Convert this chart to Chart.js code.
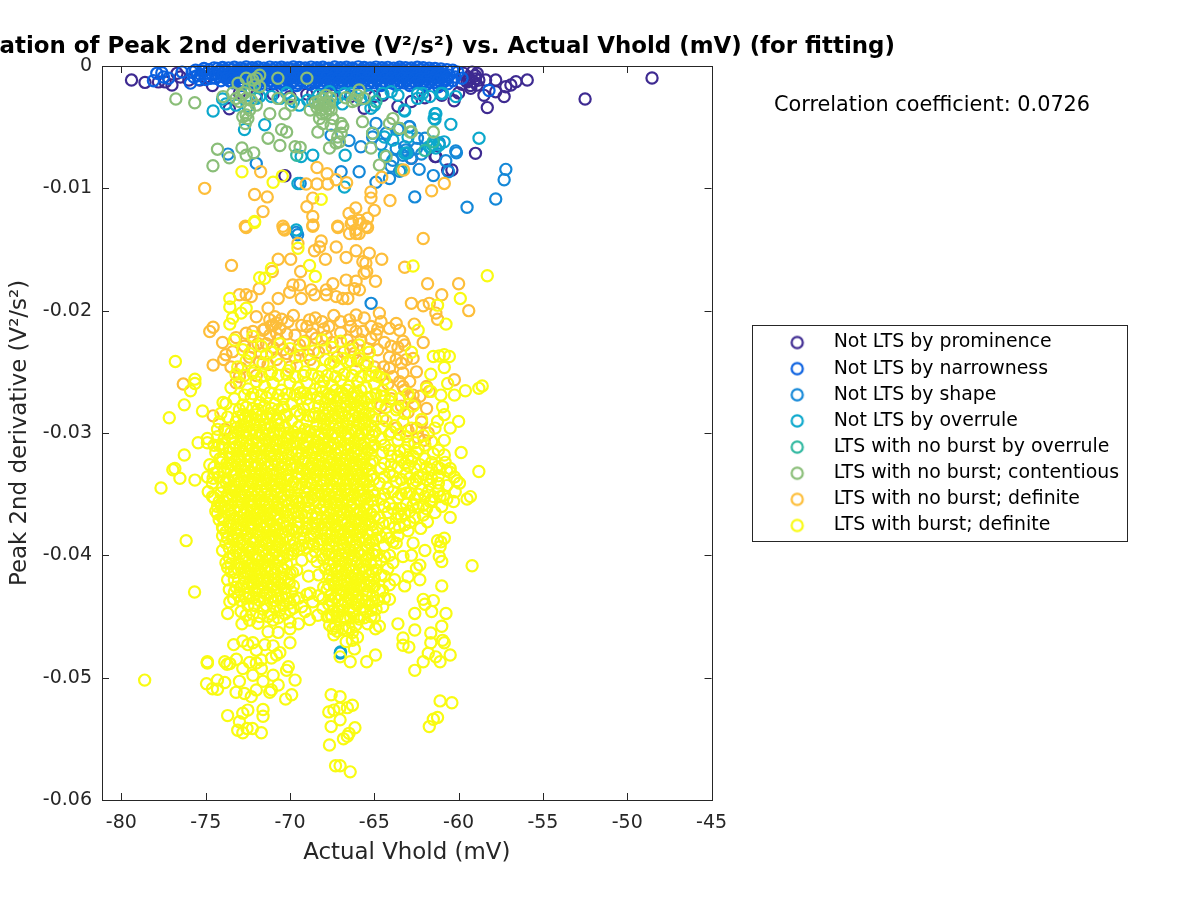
<!DOCTYPE html>
<html><head><meta charset="utf-8"><style>html,body{margin:0;padding:0;background:#fff}canvas{display:block}</style>
<script src="https://cdn.jsdelivr.net/npm/chart.js@4"></script></head><body><canvas id="c" width="1200" height="900"></canvas>
<script>
// Values: [Actual Vhold (mV), Peak 2nd derivative (1e-3 V^2/s^2)]
const seriesNames=['Not LTS by prominence','Not LTS by narrowness','Not LTS by shape','Not LTS by overrule','LTS with no burst by overrule','LTS with no burst; contentious','LTS with no burst; definite','LTS with burst; definite'];
const seriesColors=['#3E2A91','#0A60E0','#1488D8','#0CA8CC','#30B8A0','#8ABE78','#FDBE3A','#F9FB12'];
const xTicks=[-80,-75,-70,-65,-60,-55,-50,-45];
const yTicks=[0,-0.01,-0.02,-0.03,-0.04,-0.05,-0.06];
const yTickLabels=['0','-0.01','-0.02','-0.03','-0.04','-0.05','-0.06'];
const titleText='Correlation of Peak 2nd derivative (V²/s²) vs. Actual Vhold (mV) (for fitting)';
const xLabel='Actual Vhold (mV)';
const yLabel='Peak 2nd derivative (V²/s²)';
const corrText='Correlation coefficient: 0.0726';

const prominence=[[-79.4,-1.15],[-78.6,-1.34],[-77.8,-1.3],[-77.4,-1.3],[-77,-1.55],[-76.7,-.6],[-76.5,-.9],[-76,-1.15],[-75.35,-1.15],[-75,-.9],[-74.6,-1.6],[-73.6,-3.5],[-73,-2.2],[-72,-2.4],[-71,-2.3],[-70.3,-8.97],[-70,-2.5],[-69,-2.3],[-68.65,-2.2],[-67.5,-2.4],[-66.4,-2.5],[-65.6,-3.46],[-65,-2.5],[-64.5,-2.4],[-63.6,-3.3],[-62.8,-2.9],[-62.8,-7.55],[-62,-2.6],[-61.35,-7.4],[-61.4,-7.4],[-61,-2.4],[-60.65,-8.5],[-60.4,-8.5],[-60.27,-2.84],[-60,-2.2],[-59.8,-1.5],[-59.7,-.6],[-59.5,-1.3],[-59.4,-.9],[-59.2,-.5],[-59,-.8],[-58.9,-.6],[-59,-1.05],[-59.3,-1.6],[-59.4,-1.15],[-59.28,-1.83],[-59.1,-1.28],[-59,-7.14],[-58.9,-1.55],[-58.8,-1.15],[-58.5,-2.4],[-58.4,-1.15],[-58.3,-3.4],[-57.8,-1.15],[-57.8,-2.1],[-57.3,-2.5],[-57.2,-1.7],[-56.9,-1.55],[-56.6,-1.28],[-55.93,-1.15],[-52.5,-2.7],[-48.53,-.98]];

const narrowness=[[-78.1,-1.2],[-77.9,-.6],[-77.6,-.55],[-77.5,-.9],[-77.2,-1],[-76.4,-.5],[-75.8,-.5],[-75.9,-1.4],[-75.5,-.8],[-75.2,-.4],[-75,-1.1],[-74.8,-.3],[-74.6,-.7],[-74.4,-1],[-74.2,-.4],[-75.6,-.35],[-75.3,-.7],[-75.1,-.2],[-74.9,-.6],[-74.7,-1],[-74.5,-.15],[-74.4,-.65],[-74.3,-.2],[-74.2,-.85],[-74.1,-1.2],[-75.4,-1.1],[-75.7,-.9],
[-74,-.12],[-73.65,-.15],[-73.3,-.1],[-72.95,-.16],[-72.6,-.08],[-72.25,-.14],[-71.9,-.1],[-71.55,-.17],[-71.2,-.09],[-70.85,-.13],[-70.5,-.1],[-70.15,-.16],[-69.8,-.08],[-69.45,-.12],[-69.1,-.15],[-68.75,-.09],[-68.4,-.14],[-68.05,-.1],[-67.7,-.17],[-67.35,-.08],[-67,-.13],[-66.65,-.1],[-66.3,-.16],[-65.95,-.07],[-65.6,-.12],[-65.25,-.15],[-64.9,-.09],[-64.55,-.14],[-64.2,-.11],[-63.85,-.17],[-63.5,-.1],[-63.15,-.13],[-62.8,-.16],[-62.45,-.1],[-62.1,-.14],[-61.75,-.18],[-61.4,-.2],[-61.05,-.25],[-60.7,-.3],[-60.35,-.35],[-60.05,-.5],
[-74.2,-.48],[-73.85,-.45],[-73.5,-.5],[-73.15,-.44],[-72.8,-.47],[-72.45,-.5],[-72.1,-.43],[-71.75,-.48],[-71.4,-.45],[-71.05,-.5],[-70.7,-.46],[-70.35,-.42],[-70,-.49],[-69.65,-.45],[-69.3,-.5],[-68.95,-.44],[-68.6,-.47],[-68.25,-.43],[-67.9,-.5],[-67.55,-.46],[-67.2,-.42],[-66.85,-.48],[-66.5,-.45],[-66.15,-.5],[-65.8,-.44],[-65.45,-.47],[-65.1,-.42],[-64.75,-.49],[-64.4,-.45],[-64.05,-.5],[-63.7,-.44],[-63.35,-.47],[-63,-.5],[-62.65,-.45],[-62.3,-.48],[-61.95,-.52],[-61.6,-.55],[-61.25,-.6],[-60.9,-.65],[-60.55,-.75],[-60.2,-.9],[-59.8,-1],
[-74,-.8],[-73.65,-.84],[-73.3,-.78],[-72.95,-.82],[-72.6,-.77],[-72.25,-.85],[-71.9,-.79],[-71.55,-.83],[-71.2,-.76],[-70.85,-.81],[-70.5,-.86],[-70.15,-.78],[-69.8,-.82],[-69.45,-.77],[-69.1,-.84],[-68.75,-.8],[-68.4,-.85],[-68.05,-.78],[-67.7,-.82],[-67.35,-.76],[-67,-.83],[-66.65,-.79],[-66.3,-.85],[-65.95,-.77],[-65.6,-.81],[-65.25,-.86],[-64.9,-.78],[-64.55,-.83],[-64.2,-.8],[-63.85,-.85],[-63.5,-.77],[-63.15,-.82],[-62.8,-.86],[-62.45,-.8],[-62.1,-.84],[-61.75,-.88],[-61.4,-.92],[-61.05,-1],[-60.7,-1.1],[-60.35,-1.2],
[-73.6,-1.2],[-73.25,-1.15],[-72.9,-1.2],[-72.55,-1.12],[-72.2,-1.18],[-71.85,-1.22],[-71.5,-1.14],[-71.15,-1.2],[-70.8,-1.16],[-70.45,-1.23],[-70.1,-1.13],[-69.75,-1.2],[-69.4,-1.17],[-69.05,-1.24],[-68.7,-1.14],[-68.35,-1.2],[-68,-1.16],[-67.65,-1.22],[-67.3,-1.13],[-66.95,-1.19],[-66.6,-1.24],[-66.25,-1.15],[-65.9,-1.2],[-65.55,-1.14],[-65.2,-1.22],[-64.85,-1.17],[-64.5,-1.24],[-64.15,-1.15],[-63.8,-1.2],[-63.45,-1.25],[-63.1,-1.16],[-62.75,-1.22],[-62.4,-1.18],[-62.05,-1.24],[-61.7,-1.3],[-61.35,-1.35],[-61,-1.4],[-60.65,-1.45],
[-72.9,-1.6],[-72,-1.55],[-71.2,-1.6],[-70.4,-1.55],[-69.6,-1.6],[-68.8,-1.5],[-68,-1.6],[-67.1,-1.55],[-66.3,-1.6],[-65.4,-1.55],[-64.6,-1.6],[-63.7,-1.55],[-62.9,-1.6],[-62,-1.6],[-61.2,-1.7],[-58.2,-2]];

const narrownessDense=[[-73.85,-.3],[-73.45,-.28],[-73.1,-.33],[-72.75,-.27],[-72.4,-.31],[-72.05,-.26],[-71.7,-.32],[-71.35,-.29],[-71,-.33],[-70.65,-.27],[-70.3,-.3],[-69.95,-.26],[-69.6,-.32],[-69.25,-.28],[-68.9,-.33],[-68.55,-.27],[-68.2,-.31],[-67.85,-.26],[-67.5,-.32],[-67.15,-.28],[-66.8,-.3],[-66.45,-.27],[-66.1,-.33],[-65.75,-.28],[-65.4,-.31],[-65.05,-.26],[-64.7,-.32],[-64.35,-.29],[-64,-.33],[-63.65,-.27],[-63.3,-.3],[-62.95,-.28],[-62.6,-.32],[-62.25,-.29],[-61.9,-.34],[-61.55,-.38],[-61.2,-.42],
[-73.95,-.63],[-73.6,-.66],[-73.25,-.6],[-72.9,-.65],[-72.55,-.62],[-72.2,-.67],[-71.85,-.6],[-71.5,-.64],[-71.15,-.62],[-70.8,-.67],[-70.45,-.6],[-70.1,-.65],[-69.75,-.62],[-69.4,-.66],[-69.05,-.6],[-68.7,-.64],[-68.35,-.62],[-68,-.67],[-67.65,-.6],[-67.3,-.65],[-66.95,-.62],[-66.6,-.66],[-66.25,-.6],[-65.9,-.64],[-65.55,-.62],[-65.2,-.67],[-64.85,-.6],[-64.5,-.65],[-64.15,-.62],[-63.8,-.66],[-63.45,-.6],[-63.1,-.64],[-62.75,-.67],[-62.4,-.62],[-62.05,-.66],[-61.7,-.7],[-61.35,-.76],[-61,-.82],[-60.65,-.92],
[-73.8,-1],[-73.45,-.97],[-73.1,-1.02],[-72.75,-.95],[-72.4,-1],[-72.05,-.97],[-71.7,-1.03],[-71.35,-.96],[-71,-1],[-70.65,-.95],[-70.3,-1.02],[-69.95,-.97],[-69.6,-1],[-69.25,-.96],[-68.9,-1.03],[-68.55,-.97],[-68.2,-1],[-67.85,-.95],[-67.5,-1.02],[-67.15,-.96],[-66.8,-1],[-66.45,-.97],[-66.1,-1.03],[-65.75,-.95],[-65.4,-1],[-65.05,-.97],[-64.7,-1.02],[-64.35,-.96],[-64,-1],[-63.65,-1.03],[-63.3,-.97],[-62.95,-1.02],[-62.6,-.98],[-62.25,-1.03],[-61.9,-1.06],[-61.55,-1.12],[-61.2,-1.18],[-60.85,-1.26],
[-73.4,-1.38],[-73.05,-1.42],[-72.7,-1.36],[-72.35,-1.4],[-72,-1.35],[-71.65,-1.41],[-71.3,-1.38],[-70.95,-1.43],[-70.6,-1.36],[-70.25,-1.4],[-69.9,-1.38],[-69.55,-1.42],[-69.2,-1.36],[-68.85,-1.4],[-68.5,-1.35],[-68.15,-1.41],[-67.8,-1.38],[-67.45,-1.43],[-67.1,-1.36],[-66.75,-1.4],[-66.4,-1.37],[-66.05,-1.42],[-65.7,-1.35],[-65.35,-1.4],[-65,-1.38],[-64.65,-1.43],[-64.3,-1.36],[-63.95,-1.4],[-63.6,-1.42],[-63.25,-1.37],[-62.9,-1.42],[-62.55,-1.38],[-62.2,-1.44],[-61.85,-1.48]];

const shape=[[-73.68,-7.2],[-72,-7.96],[-69.63,-13.6],[-69.55,-13.8],[-69.4,-9.6],[-67.56,-5.65],[-66.97,-8.64],[-65.9,-8.64],[-65.19,-19.4],[-65.1,-5.8],[-64.9,-4.7],[-64.9,-9.5],[-64.3,-5.5],[-64.1,-9.2],[-63.9,-7.7],[-63.7,-6.75],[-63.6,-5.2],[-63.3,-7.3],[-63.2,-6.6],[-63.13,-6.87],[-63,-7.1],[-62.93,-4.96],[-62.9,-4.96],[-62.83,-7.55],[-62.6,-10.7],[-62.5,-6.75],[-62.44,-5.9],[-62.34,-8.45],[-62,-5.9],[-61.5,-8.96],[-61.15,-6.3],[-60.76,-7.74],[-60.6,-8.64],[-60.17,-6.95],[-60.13,-7.1],[-59.5,-11.55],[-57.8,-10.87],[-57.3,-9.3],[-57.2,-8.45],[-66.5,-6.1],[-65.8,-6.6],[-64.6,-6.4],[-64,-8.2],[-63.5,-8.6],[-62.2,-7.2],[-67.02,-47.98]];

const overrule=[[-74.56,-3.68],[-74,-2.7],[-73.8,-3.1],[-73.2,-3.2],[-72.7,-5.2],[-72.5,-3.3],[-72,-2.65],[-71.8,-2.5],[-71.5,-4.8],[-71.1,-2.5],[-70.6,-2.65],[-70.2,-2.2],[-69.8,-2.9],[-69.63,-13.4],[-69.53,-9.6],[-69.45,-3.2],[-69.34,-7.4],[-68.95,-2.8],[-68.65,-2.9],[-68.65,-7.3],[-68.3,-2.4],[-67.66,-2.1],[-67.46,-2.9],[-67.2,-2.6],[-66.9,-3.1],[-66.77,-2.25],[-66.77,-9.9],[-66.73,-7.3],[-66.38,-2.25],[-65.8,-2.7],[-65.3,-2.4],[-65.2,-3.45],[-65.1,-5.5],[-65,-3.2],[-64.5,-2.25],[-64.4,-5.8],[-64.4,-7.3],[-64,-2.1],[-63.9,-6.05],[-63.6,-2.4],[-63.5,-5.1],[-63.22,-3.6],[-63.2,-3.68],[-63.2,-7.14],[-63.1,-7.1],[-63,-5.8],[-62.44,-2.65],[-62.43,-2.25],[-62.14,-2.25],[-61.75,-6.6],[-61.7,-2.5],[-61.65,-6.6],[-61.55,-6.45],[-61.45,-4.3],[-61.4,-3.9],[-61.4,-4.36],[-61.35,-3.9],[-61.35,-6.7],[-61.15,-6.45],[-61.05,-2.25],[-60.95,-2.25],[-60.86,-6.2],[-60.46,-4.77],[-60.17,-2.5],[-58.79,-5.9],[-67,-47.9]];

const noBurstOverrule=[[-69.6,-7.3],[-64.9,-2.9],[-63.4,-8.5],[-62,-6.9],[-61.5,-6.2],[-68.1,-2.6],[-72.3,-1.9]];

const contentious=[[-76.77,-2.7],[-75.65,-3],[-74.57,-8.15],[-74.3,-6.8],[-73.97,-2.5],[-73.6,-7.5],[-73.4,-2.2],[-73.2,-2.65],[-73.08,-1.4],[-73,-2.9],[-72.9,-2.4],[-72.85,-6.7],[-72.8,-4.15],[-72.7,-2.2],[-72.65,-4.7],[-72.6,-1],[-72.6,-2.65],[-72.6,-4],[-72.6,-7.3],[-72.5,-4.3],[-72.4,-3.6],[-72.3,-2.8],[-72.2,-1.15],[-72.15,-7.1],[-72.1,-1.55],[-72,-1],[-72,-3.2],[-71.8,-.75],[-71.8,-1.7],[-71.3,-5.9],[-71.2,-3.9],[-70.72,-1],[-70.72,-2.65],[-70.6,-6.5],[-70.5,-5.2],[-70.3,-3.9],[-70.2,-5.4],[-70,-2.65],[-69.93,-3.2],[-69.7,-6.6],[-69.4,-6.65],[-69,-1],[-68.8,-3.6],[-68.5,-3],[-68.4,-3.4],[-68.35,-5.4],[-68.3,-2.9],[-68.25,-3.2],[-68.25,-4.3],[-68.15,-3.6],[-68.1,-3.9],[-68.05,-3.2],[-68.05,-4.7],[-68,-2.7],[-67.9,-3],[-67.86,-2.4],[-67.86,-3.3],[-67.86,-3.9],[-67.7,-3.5],[-67.66,-3.05],[-67.66,-6.7],[-67.6,-2.6],[-67.56,-3.6],[-67.56,-4.85],[-67.46,-4.3],[-67.27,-6.3],[-67.17,-5.8],[-67.07,-6.2],[-66.97,-4.7],[-66.97,-5.5],[-66.87,-4.95],[-66.7,-2.6],[-66.3,-2.9],[-66.1,-2.8],[-66,-2.4],[-65.9,-1.96],[-65.7,-4.55],[-65.6,-2.65],[-65.2,-6.7],[-65.1,-5.5],[-64.7,-8.1],[-64.3,-7.4],[-64.1,-4.7],[-63.9,-4.3],[-63.5,-5.1],[-62.87,-5.4],[-62.8,-5.4],[-61.5,-5.4]];

const noBurstDefinite=[[-76.33,-26],[-75.06,-10],[-74.76,-21.7],[-74.56,-21.35],[-74.56,-24.45],[-74.56,-28.6],[-73.93,-24],[-73.87,-29.7],[-73.47,-16.3],[-73.4,-23.35],[-73.2,-25.9],[-73,-18.7],[-73,-25.4],[-72.65,-13.1],[-72.6,-13.2],[-72.6,-18.7],[-72.6,-21.85],[-72.3,-18.85],[-72.1,-10.5],[-72,-20.5],[-71.83,-18.2],[-71.74,-8.64],[-71.6,-11.9],[-71.6,-21.6],[-71.35,-10.7],[-71.3,-19.8],[-71.2,-20.75],[-71.05,-16.8],[-71,-21.2],[-70.8,-21],[-70.8,-21.85],[-70.7,-15.8],[-70.7,-19],[-70.6,-21.45],[-70.42,-13.1],[-70.38,-13.3],[-70.32,-13.4],[-70.2,-23.5],[-70.12,-20.9],[-70.02,-18.5],[-69.96,-15.8],[-69.83,-17.9],[-69.53,-14.5],[-69.43,-17.9],[-69.43,-22.8],[-69.37,-16.8],[-69.33,-19],[-69.04,-9.65],[-69,-11.5],[-69,-21.3],[-68.84,-20.75],[-68.74,-18.3],[-68.65,-10.8],[-68.65,-12.3],[-68.65,-13.1],[-68.64,-13],[-68.55,-15.1],[-68.54,-18.7],[-68.45,-22.25],[-68.4,-8.3],[-68.4,-9.65],[-68.25,-14.8],[-68.15,-14.3],[-67.9,-15.8],[-67.85,-18.3],[-67.85,-18.7],[-67.85,-22.1],[-67.8,-8.8],[-67.76,-9.65],[-67.46,-17.8],[-67.27,-9.3],[-67.26,-14.8],[-67.26,-18.85],[-67.17,-13.1],[-67.16,-13.2],[-66.87,-19],[-66.67,-15.65],[-66.67,-17.5],[-66.64,-9.54],[-66.57,-19],[-66.5,-12.05],[-66.47,-13.7],[-66.47,-20.75],[-66.37,-12.9],[-66.3,-12.7],[-66.18,-18.2],[-66.1,-11.6],[-66.1,-13.4],[-66.08,-13.7],[-66.08,-15.1],[-66.08,-17.6],[-66.08,-20.35],[-66.08,-21.7],[-65.9,-12.6],[-65.9,-13.7],[-65.88,-18.3],[-65.78,-12.9],[-65.68,-16],[-65.68,-21.7],[-65.6,-16.95],[-65.5,-13.1],[-65.5,-16.1],[-65.45,-16.8],[-65.4,-12.45],[-65.4,-13.2],[-65.3,-15.3],[-65.2,-10.3],[-65.2,-10.8],[-65.19,-21.3],[-65,-11.8],[-64.93,-17.6],[-64.9,-21.95],[-64.8,-23.2],[-64.7,-20.2],[-64.6,-20.9],[-64.56,-9.1],[-64.56,-15.8],[-64.5,-28.8],[-64.45,-24.6],[-64.1,-21.45],[-64.1,-23.8],[-64.1,-24.7],[-64.07,-11],[-63.7,-21.05],[-63.7,-24],[-63.5,-21.6],[-63.5,-25.8],[-63.4,-24.3],[-63.3,-22.5],[-63.3,-25.1],[-63.26,-8.5],[-63.2,-16.45],[-63.2,-22.8],[-62.8,-19.4],[-62.7,-26.9],[-62.63,-21.1],[-62.5,-25],[-62.5,-29.6],[-62.1,-14.1],[-62.1,-19.6],[-62.1,-22.6],[-62.04,-30.6],[-61.9,-26.2],[-61.84,-17.8],[-61.74,-19.4],[-61.74,-26.6],[-61.6,-10.2],[-61.35,-20.2],[-61.25,-20.7],[-61,-18.7],[-60.85,-9.6],[-60.25,-25.65],[-60,-17.8],[-59.4,-20],[-71.5,-21.5],[-71.2,-22],[-70.9,-20.5],[-68,-21.5],[-67.5,-22.6],[-67,-21.8],[-66.6,-22.4],[-69.7,-23.8],[-72.2,-23],[-71.8,-24.2],[-68.8,-24],[-66.2,-23.5],[-65.5,-24.5]];

const noBurstDense=[[-74,-22.6],[-73.8,-23.6],[-73.5,-24.6],[-73.2,-22.2],[-72.9,-24.7],[-72.7,-22.9],[-72.4,-23.8],[-72.2,-21.7],[-72,-25.3],[-71.9,-22.7],[-71.7,-23.5],[-71.4,-22.7],[-71.3,-24.4],[-71.1,-21.2],[-71,-23],[-70.8,-24],[-70.7,-22.4],[-70.5,-20.7],[-70.4,-23.2],[-70.2,-21.9],[-70,-24.6],[-69.8,-20.4],[-69.7,-22],[-69.5,-23.2],[-69.3,-21.2],[-69.1,-22.5],[-68.9,-23.6],[-68.7,-21.9],[-68.5,-20.6],[-68.3,-23.4],[-68.1,-20.9],[-67.9,-23.1],[-67.7,-21.3],[-67.4,-20.4],[-67.2,-23.8],[-67,-20.9],[-66.8,-23.4],[-66.4,-21.3],[-66.3,-22.9],[-66,-24.1],[-65.8,-22.4],[-65.6,-20.6],[-65.4,-23.1],[-65.2,-22.3],[-65,-24.6],[-64.8,-21.5],[-64.6,-25.2],[-64.4,-22.6],[-64.2,-26],[-64,-22.9],[-63.9,-25.4],[-63.6,-23],[-63.3,-26.2],[-63.1,-24],[-62.9,-25.8],[-62.7,-23.9],[-64,-27.2],[-63.4,-27.8],[-63,-28.3],[-62.6,-27.6],[-62.3,-27],[-62.2,-29.1],[-61.9,-28],[-61.8,-30],[-63.7,-29.6],[-63,-29.8],[-62.4,-30.4],[-64.6,-27.8],[-63.2,-26.5],[-62.9,-27.1]];

const burstOuter=[[-78.62,-50.2],[-77.65,-34.5],[-77.16,-28.75],[-76.95,-33],[-76.83,-32.9],[-76.8,-24.15],[-76.53,-33.7],[-76.27,-27.7],[-76.27,-31.8],[-76.16,-38.8],[-75.9,-26.55],[-75.66,-43],[-75.64,-25.6],[-75.64,-25.95],[-75.64,-33.85],[-75.45,-30.8],[-75.19,-28.2],[-74.95,-50.5],[-74.91,-48.75],[-74.9,-48.8],[-74.9,-48.7],[-74.9,-30.45],[-74.9,-30.8],[-74.9,-33.6],[-74.85,-34.8],[-74.76,-32.6],[-74.6,-50.9],[-74.56,-33.7],[-74.4,-36.4],[-74.3,-50.2],[-74.3,-50.95],[-74.16,-32.1],[-74.07,-36],[-73.97,-27.5],[-73.97,-37.8],[-73.87,-48.7],[-73.87,-50.4],[-73.73,-48.9],[-73.7,-38.6],[-73.7,-44.75],[-73.7,-53.1],[-73.57,-19],[-73.57,-19.7],[-73.57,-21.1],[-73.57,-43.8],[-73.57,-48.85],[-73.5,-41.35],[-73.4,-20.6],[-73.34,-43.6],[-73.34,-47.3],[-73.2,-42.6],[-73.18,-48.5],[-73.2,-51.2],[-73.1,-54.3],[-73,-50.3],[-73,-53.6],[-72.9,-20.2],[-72.85,-8.64],[-72.85,-45.6],[-72.8,-47],[-72.8,-49.25],[-72.8,-52.9],[-72.8,-54.5],[-72.7,-41.35],[-72.7,-51.3],[-72.6,-19.8],[-72.6,-43.5],[-72.6,-44.9],[-72.55,-54.15],[-72.5,-42.6],[-72.5,-47.3],[-72.5,-52.65],[-72.4,-48.75],[-72.3,-51.55],[-72.23,-54.15],[-72.2,-47.15],[-72.2,-49.8],[-72.1,-12.7],[-72.1,-12.8],[-72,-47.75],[-72,-48.8],[-72,-51],[-71.9,-45.55],[-71.8,-17.3],[-71.7,-48.55],[-71.7,-49.25],[-71.7,-54.5],[-71.6,-50.3],[-71.6,-52.6],[-71.6,-53.15],[-71.5,-17.35],[-71.5,-47.3],[-71.3,-46.25],[-71.2,-51.2],[-71.1,-16.55],[-71.1,-48.4],[-71.1,-51],[-71,-9.5],[-71,-45.3],[-71,-47.4],[-71,-49.8],[-70.8,-48.15],[-70.7,-46.3],[-70.7,-50.6],[-70.6,-47.95],[-70.46,-9],[-70.26,-51.75],[-70.2,-49.4],[-70.1,-49.1],[-70,-45.45],[-70,-46],[-70,-47.15],[-69.9,-51.4],[-69.7,-50.2],[-69.53,-14.9],[-69.5,-45.6],[-69.1,-44.6],[-68.84,-16.3],[-68.84,-45.25],[-68.65,-43.8],[-68.5,-17.2],[-68.35,-44.9],[-68.15,-10.9],[-68.05,-43.55],[-68.05,-44.35],[-67.7,-52.8],[-67.66,-55.5],[-67.65,-45.7],[-67.56,-51.4],[-67.56,-54],[-67.45,-46],[-67.4,-46.5],[-67.4,-52.65],[-67.3,-57.2],[-67.05,-52.5],[-67.03,-48.3],[-67.03,-51.55],[-67.03,-53.45],[-67.03,-57.2],[-66.83,-55],[-66.67,-47.05],[-66.6,-52.45],[-66.6,-54.8],[-66.5,-54.55],[-66.43,-48.7],[-66.43,-57.7],[-66.3,-46.95],[-66.3,-52.25],[-66.18,-47.65],[-66.15,-54.1],[-66,-46.7],[-65.45,-48.7],[-65.2,-45],[-64.93,-46],[-64.93,-48.15],[-64.7,-45.8],[-63.7,-39],[-63.6,-45.6],[-63.4,-36.85],[-63.3,-40.1],[-63.3,-46.75],[-63.3,-47.35],[-63.2,-42.5],[-63,-38],[-63,-41.75],[-62.95,-47.5],[-62.8,-23.4],[-62.8,-40],[-62.7,-16.35],[-62.7,-35.9],[-62.7,-39],[-62.6,-44.75],[-62.6,-46.1],[-62.6,-49.4],[-62.5,-41.05],[-62.4,-21.6],[-62.3,-40.8],[-62.3,-42],[-62.25,-37.8],[-62.1,-36.7],[-62.1,-43.6],[-62.1,-48.7],[-62,-39.6],[-62,-44],[-61.9,-26.35],[-61.85,-37.25],[-61.8,-48],[-61.74,-54],[-61.65,-25.2],[-61.65,-26.6],[-61.65,-46.35],[-61.65,-47.15],[-61.6,-44.6],[-61.5,-23.75],[-61.5,-43.7],[-61.5,-53.4],[-61.4,-29.6],[-61.35,-48.3],[-61.25,-19.55],[-61.25,-29.05],[-61.25,-32.75],[-61.25,-38.8],[-61.25,-53.25],[-61.15,-23.7],[-61.15,-40.1],[-61.1,-39.3],[-61.1,-48.7],[-61.1,-51.9],[-61.05,-26.9],[-61.05,-38.9],[-61,-40.5],[-61,-42.5],[-61,-45.8],[-60.95,-27.85],[-60.95,-46.95],[-60.85,-23.6],[-60.85,-24.65],[-60.85,-28.5],[-60.85,-30.6],[-60.85,-31.8],[-60.85,-38.6],[-60.85,-47.15],[-60.75,-21.1],[-60.75,-44.75],[-60.65,-25.95],[-60.55,-23.75],[-60.5,-29.6],[-60.5,-36.9],[-60.5,-48.15],[-60.4,-52.05],[-60.25,-26.9],[-60.25,-33.6],[-60,-29.05],[-59.95,-34.1],[-59.9,-19],[-59.85,-31.6],[-59.6,-26.55],[-59.5,-35.4],[-59.3,-35.2],[-59.2,-40.85],[-58.8,-26.35],[-58.8,-33.15],[-58.6,-26.15],[-58.3,-17.15]];

const burstCore=[
[-73.3,-22.4],[-72.8,-23.2],[-72.2,-22.1],[-71.7,-22.9],[-71.1,-23.4],[-70.6,-22.7],[-70,-23.1],[-69.2,-22.6],[-68.6,-23.3],[-68.1,-22.4],[-67.5,-23],[-67,-22.5],[-66.4,-23.2],[-65.9,-22.8],[-65.3,-23.4],
[-73.1,-24.6],[-72.6,-24.1],[-72.1,-24.9],[-71.6,-24.3],[-71.1,-25],[-70.6,-24.4],[-70.1,-24.9],[-69.6,-24.5],[-69.1,-25],[-68.6,-24.4],[-68.1,-24.9],[-67.6,-24.3],[-67.1,-24.7],[-66.6,-24.2],[-66.1,-24.8],[-65.6,-24.3],[-65.1,-25],[-64.7,-25.4],
[-73.5,-26.3],[-73,-25.9],[-72.5,-26.4],[-72,-25.8],[-71.5,-26.2],[-71,-25.9],[-70.5,-26.5],[-70,-25.9],[-69.5,-26.3],[-69,-25.9],[-68.5,-26.4],[-68,-25.8],[-67.5,-26.1],[-67,-25.7],[-66.5,-26.2],[-66,-25.8],[-65.5,-26.3],[-65,-26],[-64.5,-26.5],[-64,-26.9],[-63.5,-27.2],[-63,-26.8],
[-73.8,-27.6],[-73.3,-27.2],[-72.8,-27.7],[-72.3,-27.1],[-71.8,-27.5],[-71.4,-27.1],[-70.9,-27.6],[-70.4,-27.2],[-69.9,-27.6],[-69.4,-27.2],[-68.9,-27.7],[-68.4,-27.1],[-67.9,-27.5],[-67.6,-27],[-67.2,-27.4],[-66.8,-27],[-66.4,-27.5],[-66,-27],[-65.6,-27.4],[-65.2,-27.1],[-64.8,-27.6],[-64.3,-27.9],[-63.7,-28.1],[-63.2,-28.4],[-62.7,-27.8],
[-74.2,-29.1],[-73.7,-28.7],[-73.2,-29.1],[-72.8,-28.5],[-72.4,-29],[-72,-28.5],[-71.6,-28.9],[-71.2,-28.4],[-70.8,-28.9],[-70.3,-28.5],[-69.9,-29],[-69.4,-28.5],[-69,-29],[-68.5,-28.4],[-68.1,-28.8],[-67.7,-28.3],[-67.3,-28.8],[-66.9,-28.4],[-66.5,-28.9],[-66.1,-28.3],[-65.7,-28.8],[-65.3,-28.4],[-64.9,-28.9],[-64.3,-29],[-63.8,-29.4],[-63.3,-29.1],[-62.8,-29.6],[-62.2,-28.9],
[-74.3,-30.3],[-73.8,-29.9],[-73.4,-30.4],[-73,-29.8],[-72.6,-30.2],[-72.2,-29.7],[-71.8,-30.2],[-71.4,-29.7],[-71,-30.1],[-70.6,-29.8],[-70.2,-30.3],[-69.8,-29.9],[-69.3,-30.4],[-68.8,-29.9],[-68.3,-30.2],[-67.9,-29.7],[-67.5,-30.1],[-67.1,-29.6],[-66.7,-30.1],[-66.3,-29.7],[-65.9,-30.2],[-65.5,-29.7],[-65.1,-30.2],[-64.6,-30.5],[-64.1,-30.1],[-63.6,-30.6],[-63.1,-30.3],[-62.6,-30.8],[-62.1,-30.2],[-61.6,-30.7],
[-74.4,-31.6],[-74,-31.2],[-73.6,-31.6],[-73.2,-31.1],[-72.8,-31.5],[-72.4,-31],[-72,-31.5],[-71.6,-31],[-71.2,-31.5],[-70.8,-31],[-70.4,-31.4],[-70,-31],[-69.5,-31.5],[-69.1,-31.1],[-68.6,-31.6],[-68.2,-31],[-67.8,-31.4],[-67.4,-30.9],[-67,-31.4],[-66.6,-31],[-66.2,-31.5],[-65.8,-31],[-65.4,-31.4],[-65,-31],[-64.5,-31.6],[-64,-31.9],[-63.5,-31.5],[-63,-32],[-62.5,-31.6],[-62,-32.1],[-61.5,-31.7],
[-74.5,-32.8],[-74.1,-32.4],[-73.7,-32.9],[-73.3,-32.3],[-72.9,-32.8],[-72.5,-32.3],[-72.1,-32.7],[-71.7,-32.2],[-71.3,-32.7],[-70.9,-32.3],[-70.5,-32.8],[-70.1,-32.2],[-69.6,-32.8],[-69.2,-32.3],[-68.7,-32.8],[-68.3,-32.3],[-67.9,-32.7],[-67.5,-32.2],[-67.1,-32.7],[-66.7,-32.2],[-66.3,-32.7],[-65.9,-32.3],[-65.5,-32.8],[-65.1,-32.3],[-64.6,-32.9],[-64.1,-33.2],[-63.6,-32.8],[-63.1,-33.3],[-62.6,-32.9],[-62.1,-33.4],[-61.6,-33],[-61.2,-33.5],[-60.7,-33.1],
[-74.6,-34.1],[-74.2,-33.6],[-73.8,-34],[-73.4,-33.5],[-73,-34],[-72.6,-33.5],[-72.2,-34],[-71.8,-33.5],[-71.4,-33.9],[-71,-33.5],[-70.6,-34],[-70.2,-33.5],[-69.8,-34],[-69.3,-33.6],[-68.8,-34.1],[-68.4,-33.5],[-68,-33.9],[-67.6,-33.4],[-67.2,-33.9],[-66.8,-33.4],[-66.4,-33.9],[-66,-33.5],[-65.6,-34],[-65.2,-33.5],[-64.7,-34.1],[-64.2,-34.5],[-63.7,-34],[-63.2,-34.5],[-62.7,-34.1],[-62.2,-34.6],[-61.7,-34.2],[-61.2,-34.7],[-60.7,-34.3],[-60.2,-34.8],
[-74.5,-35.3],[-74.1,-34.9],[-73.7,-35.3],[-73.3,-34.8],[-72.9,-35.2],[-72.5,-34.8],[-72.1,-35.2],[-71.7,-34.7],[-71.3,-35.2],[-70.9,-34.7],[-70.5,-35.2],[-70.1,-34.8],[-69.6,-35.3],[-69.1,-34.8],[-68.7,-35.3],[-68.3,-34.8],[-67.9,-35.2],[-67.5,-34.7],[-67.1,-35.2],[-66.7,-34.7],[-66.3,-35.2],[-65.9,-34.8],[-65.5,-35.3],[-65.1,-34.8],[-64.6,-35.4],[-64.1,-35.8],[-63.6,-35.3],[-63.1,-35.8],[-62.6,-35.4],[-62.1,-35.9],[-61.6,-35.5],[-61,-36],
[-74.3,-36.6],[-73.9,-36.1],[-73.5,-36.6],[-73.1,-36],[-72.7,-36.5],[-72.3,-36],[-71.9,-36.5],[-71.5,-36],[-71.1,-36.5],[-70.7,-36],[-70.3,-36.5],[-69.8,-36.1],[-69.3,-36.6],[-68.9,-36.1],[-68.4,-36.6],[-68,-36],[-67.6,-36.5],[-67.2,-36],[-66.8,-36.5],[-66.4,-36],[-66,-36.5],[-65.6,-36.1],[-65.2,-36.6],[-64.7,-36.9],[-64.2,-36.5],[-63.7,-37],[-63.2,-36.6],
[-74,-37.7],[-73.6,-37.3],[-73.2,-37.8],[-72.8,-37.2],[-72.4,-37.7],[-72,-37.2],[-71.6,-37.7],[-71.2,-37.2],[-70.8,-37.7],[-70.4,-37.3],[-69.9,-37.8],[-69.5,-37.3],[-69,-37.8],[-68.5,-37.4],[-68.1,-37.8],[-67.7,-37.3],[-67.3,-37.7],[-66.9,-37.2],[-66.5,-37.7],[-66.1,-37.2],[-65.7,-37.7],[-65.3,-37.3],[-64.8,-37.9],[-64.3,-38.2],[-63.8,-37.7],
[-73.8,-39],[-73.4,-38.5],[-73,-38.9],[-72.6,-38.4],[-72.2,-38.9],[-71.8,-38.4],[-71.4,-38.9],[-71,-38.4],[-70.6,-38.9],[-70.2,-38.5],[-69.7,-39],[-69.2,-38.6],[-68.6,-39.1],[-68.1,-38.7],[-67.7,-39.1],[-67.3,-38.5],[-66.9,-39],[-66.5,-38.5],[-66.1,-39],[-65.7,-38.5],[-65.3,-39],[-64.9,-38.6],[-64.4,-39.2],[-63.9,-38.9],
[-73.6,-40.2],[-73.2,-39.7],[-72.8,-40.2],[-72.4,-39.7],[-72,-40.2],[-71.6,-39.7],[-71.2,-40.2],[-70.8,-39.7],[-70.4,-40.2],[-69.9,-39.9],[-69.3,-40.4],[-68.7,-40.1],[-68,-40.3],[-67.5,-39.9],[-67.1,-40.3],[-66.7,-39.8],[-66.3,-40.3],[-65.9,-39.8],[-65.5,-40.3],[-65.1,-39.9],[-64.6,-40.4],[-64.1,-40],
[-73.3,-41.4],[-72.9,-41],[-72.5,-41.4],[-72.1,-40.9],[-71.7,-41.4],[-71.3,-40.9],[-70.9,-41.4],[-70.5,-41],[-70,-41.5],[-69.6,-41.2],[-68.9,-41.7],[-68.3,-41.6],[-67.7,-41.6],[-67.3,-41.1],[-66.9,-41.6],[-66.5,-41.1],[-66.1,-41.6],[-65.7,-41.1],[-65.3,-41.6],[-64.9,-41.2],[-64.4,-41.7],
[-72.9,-42.5],[-72.3,-42.1],[-71.9,-42.6],[-71.5,-42.1],[-71.1,-42.6],[-70.7,-42.2],[-70.3,-42.7],[-69.8,-42.5],[-67.8,-42.8],[-67.4,-42.3],[-67,-42.8],[-66.6,-42.3],[-66.2,-42.8],[-65.8,-42.4],[-65.4,-42.9],[-65,-42.5],[-64.5,-42.9],[-64.1,-42.4],
[-72.4,-43.4],[-71.8,-43.7],[-71.4,-43.2],[-71,-43.7],[-70.5,-43.4],[-70,-43.9],[-69.5,-43.5],[-69,-43.2],[-67.7,-44],[-67.3,-43.5],[-66.9,-44],[-66.5,-43.5],[-66.1,-44],[-65.7,-43.6],[-65.3,-44],[-64.8,-43.7],
[-72.2,-44.8],[-71.6,-44.4],[-71.1,-44.8],[-70.6,-44.5],[-67.5,-45],[-67.1,-44.6],[-66.7,-45.1],[-66.3,-44.7],[-65.9,-45.2],[-65.5,-44.6],[-67.3,-45.8],[-66.9,-46],[-66.5,-45.9],[-66.1,-45.7],
[-73.9,-33.2],[-73.5,-34.6],[-73.1,-31.9],[-72.7,-33.1],[-72.3,-35.6],[-71.9,-34.1],[-71.5,-36.8],[-71.1,-34.3],[-70.9,-38],[-72.2,-39.5],[-71.8,-37],[-71.4,-38.1],[-71,-41.9],[-71.9,-40.8],[-72.5,-36.9],[-72,-33.3],[-71.6,-35.6],[-71.2,-37.9],[-70.8,-36.1],[-70.6,-39.3],[-72.1,-42.9],
[-68,-30.9],[-67.6,-32.6],[-67.3,-35.7],[-66.9,-33.1],[-66.6,-36.4],[-66.2,-34.2],[-65.9,-37.1],[-65.6,-29.2],[-67.8,-28.9],[-67.4,-37],[-67,-38.3],[-66.7,-40.6],[-66.3,-37.9],[-66,-41.9],[-67.2,-42],[-65.7,-33.9],[-66.5,-30.5],[-67,-27.8],[-66.2,-27.6],[-66.8,-43],[-66.4,-42.6],
[-62.5,-33.9],[-62,-35.2],[-61.6,-33.7],[-61.2,-34.1],[-60.9,-35.1],[-61.4,-36.5],[-61.9,-32.8],[-60.5,-33.2]];

const burstLeftLobe=[
[-73,-28.1],[-72.6,-27.9],[-72.2,-28],[-71.9,-28.1],[-71.5,-27.8],[-71.1,-28],[-70.7,-28.1],[-70.4,-27.9],
[-73.2,-29.6],[-72.9,-29.4],[-72.5,-29.5],[-72.1,-29.3],[-71.8,-29.5],[-71.5,-29.3],[-71.1,-29.5],[-70.7,-29.3],[-70.3,-29.5],
[-73.3,-30.8],[-72.9,-30.6],[-72.6,-30.9],[-72.2,-30.6],[-71.9,-30.8],[-71.5,-30.5],[-71.2,-30.8],[-70.8,-30.6],[-70.4,-30.8],[-70,-30.5],
[-73.5,-32],[-73,-32.2],[-72.7,-31.9],[-72.3,-32],[-72,-31.9],[-71.6,-32],[-71.2,-31.9],[-70.9,-31.8],[-70.5,-32],[-70.1,-31.8],
[-73.5,-33.1],[-73.2,-33.3],[-72.8,-33.5],[-72.4,-33.2],[-72.1,-33.4],[-71.7,-33],[-71.4,-33.3],[-71,-33],[-70.6,-33.3],[-70.2,-33],
[-73.6,-34.5],[-73.2,-34.4],[-72.8,-34.6],[-72.4,-34.4],[-72.1,-34.6],[-71.7,-34.2],[-71.4,-34.6],[-71,-34.2],[-70.7,-34.5],[-70.3,-34.3],
[-73.5,-35.9],[-73.1,-35.6],[-72.8,-35.8],[-72.4,-35.5],[-72.1,-35.8],[-71.8,-35.5],[-71.4,-35.7],[-71,-35.5],[-70.7,-35.7],[-70.3,-35.5],
[-73.4,-37],[-73,-36.9],[-72.7,-37.1],[-72.3,-36.8],[-72,-37],[-71.6,-36.7],[-71.3,-37],[-70.9,-36.7],[-70.6,-37],[-70.2,-36.8],
[-73.2,-38.2],[-72.9,-38],[-72.5,-38.2],[-72.2,-37.9],[-71.9,-38.1],[-71.5,-37.8],[-71.2,-38.5],[-70.9,-37.9],[-70.5,-38.2],[-70.1,-38],
[-73.1,-39.4],[-72.8,-39.2],[-72.4,-39.3],[-72.1,-39],[-71.8,-39.3],[-71.4,-39.1],[-71.1,-39.4],[-70.7,-39.1],[-70.3,-39.4],[-69.9,-39.2],
[-73,-40.7],[-72.6,-40.4],[-72.3,-40.7],[-71.9,-40.3],[-71.6,-40.7],[-71.3,-40.4],[-70.9,-40.7],[-70.6,-40.4],[-70.2,-40.7],
[-72.7,-41.9],[-72.3,-41.6],[-72,-41.9],[-71.6,-41.8],[-71.3,-41.9],[-70.9,-42],[-70.5,-41.8],[-70.1,-42],
[-72.5,-43.1],[-72,-43.1],[-71.6,-42.9],[-71.2,-43.1],[-70.8,-42.9],[-70.3,-43.1],[-69.9,-43],
[-72.1,-44.1],[-71.4,-44.1],[-70.9,-44.2],[-70.4,-44.1],[-70,-44.5]];

const burstRightLobe=[
[-68.1,-26.6],[-67.7,-26.8],[-67.3,-26.5],[-66.9,-26.7],[-66.6,-26.5],[-66.2,-26.7],[-65.8,-26.5],
[-68.3,-27.8],[-67.9,-28],[-67.5,-27.8],[-67.1,-28.2],[-66.7,-27.8],[-66.4,-28],[-66,-27.8],[-65.7,-28],[-65.3,-27.7],
[-68.4,-29.4],[-68,-29.3],[-67.6,-29.1],[-67.3,-29.4],[-66.9,-29.1],[-66.6,-29.4],[-66.2,-29],[-65.9,-29.3],[-65.5,-29],[-65.2,-29.4],
[-68.4,-30.7],[-68,-30.4],[-67.7,-30.7],[-67.3,-30.4],[-67,-30.7],[-66.6,-30.4],[-66.2,-30.8],[-65.9,-30.5],[-65.6,-30.8],[-65.2,-30.6],
[-68.5,-32],[-68.1,-31.9],[-67.7,-32],[-67.3,-31.7],[-67,-32.1],[-66.6,-31.8],[-66.3,-32],[-65.9,-31.8],[-65.6,-32.1],[-65.2,-31.7],
[-68.5,-33.2],[-68.2,-33.1],[-67.8,-33.3],[-67.4,-33],[-67.1,-33.3],[-66.7,-33],[-66.4,-33.3],[-66,-33],[-65.7,-33.3],[-65.3,-33],
[-68.5,-34.5],[-68.1,-34.3],[-67.8,-34.6],[-67.4,-34.4],[-67.1,-34.6],[-66.7,-34.2],[-66.4,-34.6],[-66,-34.3],[-65.7,-34.6],[-65.3,-34.3],
[-68.3,-35.7],[-67.9,-35.6],[-67.6,-35.8],[-67.2,-35.5],[-66.9,-35.8],[-66.5,-35.5],[-66.2,-35.8],[-65.8,-35.5],[-65.4,-35.8],[-65.1,-35.5],
[-68.1,-37],[-67.8,-36.9],[-67.5,-37.1],[-67.1,-36.8],[-66.8,-37.1],[-66.4,-36.8],[-66.1,-37.1],[-65.7,-36.8],[-65.4,-37.1],[-65,-36.9],
[-67.9,-38.2],[-67.5,-38.2],[-67.2,-38.1],[-66.8,-38.3],[-66.5,-38.1],[-66.1,-38.3],[-65.8,-38.1],[-65.4,-38.3],[-65.1,-38.1],
[-67.8,-39.6],[-67.5,-39.3],[-67.1,-39.6],[-66.8,-39.4],[-66.4,-39.6],[-66.1,-39.3],[-65.7,-39.6],[-65.4,-39.4],[-65,-39.6],
[-67.7,-40.8],[-67.4,-40.6],[-67,-40.9],[-66.4,-40.8],[-66,-40.6],[-65.6,-40.9],[-65.2,-40.7],[-64.9,-40.6],
[-67.5,-42],[-67.2,-41.7],[-66.8,-42.1],[-66.4,-41.8],[-66.1,-42.2],[-65.7,-41.8],[-65.3,-42.2],[-65,-41.9],
[-67.6,-43.3],[-67.1,-43.2],[-66.7,-43.3],[-66.3,-43.2],[-66,-43.4],[-65.5,-43.2],[-65.1,-43.3],
[-67.4,-44.5],[-66.9,-44.5],[-66.5,-44.4],[-66.2,-44.5],[-65.7,-44.4]];

const burstFillLeft=[
[-73.1,-28.7],[-72.7,-28.8],[-72.35,-28.6],[-72,-28.9],[-71.7,-28.6],[-71.35,-28.7],[-71,-28.6],[-70.6,-28.8],[-70.2,-28.6],
[-73.5,-30],[-73.1,-30],[-72.75,-29.9],[-72.4,-30],[-72.05,-30],[-71.65,-30],[-71.3,-30.1],[-70.95,-29.9],[-70.55,-30],[-70.1,-30],
[-73.6,-31.2],[-73.35,-31.3],[-72.95,-31.2],[-72.6,-31.3],[-72.25,-31.3],[-71.85,-31.2],[-71.45,-31.3],[-71.05,-31.2],[-70.65,-31.3],[-70.25,-31.2],
[-73.75,-32.5],[-73.4,-32.6],[-73.05,-32.6],[-72.65,-32.6],[-72.3,-32.6],[-71.9,-32.5],[-71.5,-32.5],[-71.1,-32.5],[-70.7,-32.6],[-70.3,-32.5],[-69.9,-32.6],
[-73.7,-33.8],[-73.3,-33.9],[-72.9,-33.9],[-72.5,-33.9],[-72.15,-33.8],[-71.75,-33.8],[-71.35,-33.7],[-70.95,-33.9],[-70.55,-33.8],[-70.15,-33.8],
[-73.75,-35.1],[-73.4,-35.1],[-73,-35],[-72.65,-35.1],[-72.25,-35],[-71.9,-35],[-71.5,-35],[-71.1,-35],[-70.75,-35],[-70.35,-35],[-69.95,-35.1],
[-73.65,-36.3],[-73.3,-36.3],[-72.95,-36.3],[-72.55,-36.3],[-72.2,-36.3],[-71.75,-36.3],[-71.35,-36.3],[-70.95,-36.3],[-70.55,-36.3],[-70.1,-36.3],
[-73.55,-37.6],[-73.15,-37.5],[-72.85,-37.5],[-72.45,-37.5],[-72.15,-37.5],[-71.75,-37.5],[-71.35,-37.5],[-71,-37.5],[-70.65,-37.5],[-70.25,-37.6],
[-73.4,-38.7],[-73.1,-38.7],[-72.75,-38.7],[-72.35,-38.7],[-72.05,-38.7],[-71.65,-38.7],[-71.25,-38.8],[-70.85,-38.7],[-70.45,-38.7],[-70,-38.7],
[-73.35,-40],[-72.95,-39.9],[-72.6,-40],[-72.25,-40],[-71.85,-40],[-71.45,-40],[-71.05,-40],[-70.65,-40],[-70.15,-40],
[-73.1,-41.1],[-72.7,-41],[-72.35,-41.1],[-71.95,-41.2],[-71.5,-41.1],[-71.15,-41.2],[-70.75,-41.1],[-70.35,-41.2],[-69.85,-41.4],
[-72.75,-42.3],[-72.45,-42.3],[-72.15,-42.3],[-71.75,-42.3],[-71.35,-42.3],[-70.95,-42.4],[-70.55,-42.4],[-70.05,-42.3],
[-73.05,-43.3],[-72.2,-43.5],[-71.5,-43.5],[-71.1,-43.4],[-70.7,-43.5],[-70.2,-43.5],[-69.75,-43.6]];

const burstFillRight=[
[-68.3,-25.4],[-67.8,-25.3],[-67.3,-25.4],[-66.8,-25.2],[-66.3,-25.3],[-65.8,-25.4],[-65.3,-25.3],
[-68.2,-27.2],[-67.75,-27.2],[-67.4,-27.1],[-67,-27.1],[-66.6,-27.2],[-66.2,-27.1],[-65.8,-27.2],[-65.4,-27.1],
[-68.6,-28.7],[-68.25,-28.6],[-67.9,-28.6],[-67.5,-28.6],[-67.1,-28.7],[-66.75,-28.6],[-66.3,-28.6],[-65.95,-28.7],[-65.55,-28.5],[-65.1,-28.7],
[-68.55,-29.9],[-68.15,-30],[-67.75,-29.9],[-67.35,-30],[-66.95,-29.9],[-66.55,-30],[-66.15,-29.9],[-65.75,-30],[-65.35,-30],[-64.95,-29.9],
[-68.65,-31.2],[-68.3,-31.3],[-67.95,-31.2],[-67.55,-31.2],[-67.15,-31.2],[-66.75,-31.2],[-66.35,-31.2],[-65.95,-31.3],[-65.55,-31.2],[-65.15,-31.2],
[-68.7,-32.5],[-68.35,-32.6],[-68,-32.5],[-67.6,-32.4],[-67.2,-32.5],[-66.8,-32.5],[-66.45,-32.5],[-66.05,-32.5],[-65.65,-32.5],[-65.25,-32.5],
[-68.6,-33.8],[-68.2,-33.8],[-67.85,-33.8],[-67.45,-33.7],[-67.05,-33.8],[-66.65,-33.7],[-66.25,-33.8],[-65.85,-33.7],[-65.45,-33.8],[-65.05,-33.8],
[-68.55,-35.1],[-68.15,-35],[-67.75,-35],[-67.35,-35],[-67,-35.1],[-66.6,-35],[-66.2,-35],[-65.8,-35.1],[-65.4,-35.1],[-65,-35.1],
[-68.2,-36.3],[-67.85,-36.3],[-67.45,-36.3],[-67.05,-36.3],[-66.65,-36.3],[-66.25,-36.3],[-65.85,-36.3],[-65.45,-36.3],[-65.05,-36.3],
[-68.35,-37.5],[-67.95,-37.5],[-67.55,-37.5],[-67.2,-37.5],[-66.75,-37.5],[-66.35,-37.5],[-65.95,-37.5],[-65.55,-37.5],[-65.15,-37.5],
[-68.2,-38.7],[-67.8,-38.7],[-67.4,-38.8],[-67,-38.7],[-66.65,-38.7],[-66.25,-38.7],[-65.9,-38.7],[-65.5,-38.7],[-65.1,-38.8],
[-68.1,-40],[-67.7,-39.9],[-67.3,-40],[-66.95,-40],[-66.55,-40],[-66.2,-40],[-65.75,-40],[-65.35,-40],[-64.85,-40],
[-67.9,-41.1],[-67.55,-41.2],[-67.15,-41.3],[-66.7,-41.2],[-66.3,-41.3],[-65.9,-41.2],[-65.5,-41.3],[-65.1,-41.3],
[-67.7,-42.4],[-67.35,-42.5],[-66.95,-42.4],[-66.6,-42.6],[-66.2,-42.4],[-65.85,-42.6],[-65.45,-42.5],[-65.1,-42.6],
[-67.55,-43.7],[-67.15,-43.7],[-66.75,-43.8],[-66.35,-43.7],[-65.95,-43.7],[-65.55,-43.8],[-65.15,-43.8],
[-67.55,-44.9],[-67.2,-45],[-66.8,-45],[-66.4,-45.1],[-66,-45],[-65.6,-45.1],[-67.2,-46.2],[-66.7,-46.1],[-66.3,-46.3]];

const burstFillMiddle=[[-69.4,-26.7],[-69,-27.2],[-69.6,-28.2],[-69.2,-28],[-68.9,-28.6],[-69.5,-29.5],[-69.1,-29.7],[-69.6,-30.8],[-69.2,-31],[-68.95,-30.7],[-69.5,-32.1],[-69.1,-32.1],[-69.5,-33.3],[-69,-33.3],[-69.5,-34.5],[-69.05,-34.4],[-69.45,-35.7],[-68.95,-35.6],[-69.5,-36.8],[-69.1,-36.8],[-69.6,-38.1],[-69.2,-38],[-68.8,-38.4],[-69.5,-39.5],[-69,-39.4],[-68.5,-39.7],
[-74.1,-28.4],[-73.9,-30.5],[-74.2,-31],[-74.3,-33.2],[-74,-34.4],[-74.2,-35.6],[-74,-36.9],[-73.8,-38.1],[-73.6,-39.4],[-73.7,-41],[-73.5,-40.7],[-73.3,-42],
[-64.6,-27],[-64.1,-27.4],[-63.6,-27.9],[-64.5,-29.5],[-64,-29.9],[-63.5,-30.1],[-63,-30.9],[-64.4,-31],[-64.1,-31.4],[-63.6,-31.9],[-63.2,-31.4],[-62.8,-32.3],[-62.3,-32.6],[-64.4,-32.5],[-64,-32.6],[-63.4,-32.2],[-63,-32.7],[-64.4,-33.6],[-63.9,-33.5],[-63.4,-33.8],[-62.9,-33.7],[-62.4,-33.6],[-61.9,-33.8],[-64.4,-35],[-63.9,-34.8],[-63.4,-35],[-62.9,-34.9],[-62.4,-35],[-61.8,-34.8],[-64.4,-36],[-63.9,-36.2],[-63.4,-36.2],[-62.9,-36.4],[-64.5,-37.4],[-64.1,-37.4],[-63.5,-37.7],[-64.6,-38.5],[-64.1,-38.6],[-64.4,-40.1],[-63.9,-40.6],[-64.2,-41.1],[-63.8,-42],[-64.6,-41.6]];

const burstUpper=[[-73.2,-25.2],[-72.7,-25.3],[-72.2,-25.1],[-71.7,-25.4],[-71.2,-25.2],[-70.7,-25.3],[-70.2,-25.2],[-69.7,-25.4],[-69.2,-25.3],[-68.7,-25.2],[-64.9,-25.3],[-64.4,-25.6],
[-72.7,-26.9],[-72.2,-26.8],[-71.7,-26.9],[-71.2,-26.7],[-70.7,-26.9],[-70.2,-26.8],[-69.7,-26.9],[-69.2,-26.7],[-68.7,-26.8],[-68.2,-26.2],[-64.9,-26.8],[-64.4,-27],
[-67.9,-24],[-67.4,-24.2],[-66.9,-23.9],[-66.4,-24.1],[-65.9,-23.9],[-65.4,-24.2],[-72.4,-23.5],[-71.4,-23.6],[-69.4,-23.7],
[-69.9,-30.3],[-69.6,-30.2],[-69.3,-30.1],[-69,-30.3],[-68.7,-30.4],[-69.9,-31.6],[-69.6,-31.7],[-69.3,-31.7],[-69,-31.6],[-68.7,-31.4],[-69.9,-32.9],[-69.4,-32.9],[-69.2,-33],[-68.9,-32.9],[-68.6,-33],[-69.9,-34.4],[-69.6,-34.2],[-69.3,-34.2],[-69,-34],[-68.7,-34.2],[-69.9,-35.5],[-69.6,-35.6],[-69.2,-35.4],[-68.9,-35.5],[-68.6,-35.5],[-69.8,-36.6],[-69.6,-36.4],[-69,-36.5],[-68.7,-36.7],[-68.4,-36.9],[-69.8,-37.9],[-69.5,-37.7],[-69,-37.4],[-68.7,-37.8],[-68.4,-38.1],[-69.8,-39.6],[-69.3,-39.2],[-68.9,-39],[-68.3,-39.1],[-68.4,-40.5],
[-74.3,-29.7],[-74.5,-31],[-74,-32.1],[-74.5,-33.3],[-74.6,-35.2],[-74.3,-36],[-74.2,-37.1],[-74,-38.4],[-74,-39.6],[-73.8,-40.6],[-73.7,-42],[-73.3,-43],[-73.9,-35.6],[-73.9,-37.1],[-74,-30.9],
[-73.6,-42.8],[-72.9,-43.7],[-72.5,-44.1],[-72.9,-44.6],[-72.4,-45.3],[-71.8,-45],[-71.3,-45],[-70.7,-45.1],[-70.3,-44.8],[-69.8,-44.3],[-69.3,-44.2],[-68.8,-43.1],[-68.3,-43.3],[-68,-42.6],
[-64.7,-42.9],[-64.4,-43.5],[-64.9,-44.4],[-65.2,-44.5],[-64.5,-44.2],[-64.1,-43.6],[-67.8,-45],[-67.7,-45],[-65.4,-45.6],[-65,-45.1],
[-63.6,-38.4],[-63.2,-37.5],[-62.9,-37.3],[-62.6,-36.9],[-62.4,-36.1],[-61.9,-36.2],[-61.5,-35.2],[-61.1,-35.2],[-60.7,-35.4],[-60.3,-35.6],[-60.1,-33.9],[-60.5,-32.9],[-60.8,-32.4],[-61.1,-32.9],[-61.6,-32.4],[-62,-31],[-62.4,-31.3],[-62.7,-31.9],[-63.2,-32.5],[-61.2,-31.4],[-63.6,-36.6],[-63.1,-34.9],[-61.7,-35.6]];

const burstGroup=burstOuter.concat(burstCore,burstLeftLobe,burstRightLobe,burstFillLeft,burstFillRight,burstFillMiddle,burstUpper);
const narrowGroup=narrowness.concat(narrownessDense);
const noBurstGroup=noBurstDefinite.concat(noBurstDense);
const groups=[prominence,narrowGroup,shape,overrule,noBurstOverrule,contentious,noBurstGroup,burstGroup];
const toPoints=list=>list.map(([x,y])=>({x,y:y/1000}));

// Ring pictures for the legend keys (the library would stretch a plain circle)
const ring=color=>{const k=document.createElement('canvas');k.width=k.height=16;const g=k.getContext('2d');g.strokeStyle=color;g.lineWidth=2.2;g.beginPath();g.arc(8,8,5.6,0,Math.PI*2);g.stroke();return k;};
const rings=seriesColors.map(ring);

const INK='#262626';
const frame={id:'frame',
 beforeLayout(chart){const l=chart.legend;if(!l._wide){const u=l.update;l.update=function(w,h,m){return u.call(this,420,h,m);};l._wide=true;}},
 afterLayout(chart){const l=chart.legend,t=chart.titleBlock;const w=l.width;l.left=763;l.right=763+w;l.top+=1;l.bottom+=1;
  t.left=408-700;t.right=408+700;},
 afterDatasetsDraw(chart){const {ctx,chartArea:a,scales:{x,y}}=chart;ctx.save();ctx.strokeStyle=INK;ctx.lineWidth=1;
  ctx.strokeRect(Math.round(a.left)+.5,Math.round(a.top)+.5,Math.round(a.right-a.left),Math.round(a.bottom-a.top));
  ctx.beginPath();
  xTicks.forEach(v=>{const p=Math.round(x.getPixelForValue(v))+.5;ctx.moveTo(p,a.bottom);ctx.lineTo(p,a.bottom-7);ctx.moveTo(p,a.top);ctx.lineTo(p,a.top+7);});
  yTicks.forEach(v=>{const p=Math.round(y.getPixelForValue(v))+.5;ctx.moveTo(a.left,p);ctx.lineTo(a.left+7,p);ctx.moveTo(a.right,p);ctx.lineTo(a.right-7,p);});
  ctx.stroke();ctx.restore();},
 afterDraw(chart){const {ctx}=chart;ctx.save();ctx.strokeStyle=INK;ctx.lineWidth=1;ctx.strokeRect(752.5,325.5,375,216);
  ctx.fillStyle='#000';ctx.font='20.8px "DejaVu Sans"';ctx.textBaseline='middle';ctx.textAlign='left';ctx.fillText(corrText,774,106);ctx.restore();}
};

new Chart(document.getElementById('c'),{type:'scatter',
 data:{datasets:seriesNames.map((label,i)=>({label,data:toPoints(groups[i]),order:8-i,clip:false,borderColor:seriesColors[i],backgroundColor:'rgba(0,0,0,0)',pointStyle:'circle',pointRadius:5.6,pointHoverRadius:5.6,pointBorderWidth:2.2}))},
 plugins:[frame],
 options:{responsive:false,animation:false,events:[],
  layout:{padding:{left:0,top:0,bottom:0,right:122.4}},
  plugins:{tooltip:{enabled:false},
   title:{display:true,text:titleText,fullSize:false,color:'#000',font:{family:'"DejaVu Sans"',size:22.9,weight:'bold',lineHeight:1.2},padding:{top:33,bottom:5.52}},
   legend:{display:true,position:'right',align:'center',fullSize:false,
    labels:{color:'#000',font:{family:'"DejaVu Sans"',size:18.9},padding:7.24,usePointStyle:true,pointStyleWidth:54,boxHeight:8,
     generateLabels:chart=>Chart.defaults.plugins.legend.labels.generateLabels(chart).sort((a,b)=>a.datasetIndex-b.datasetIndex).map(it=>({...it,pointStyle:rings[it.datasetIndex],hidden:false}))}}},
  scales:{
   x:{type:'linear',min:-81.15,max:-45,position:'bottom',afterFit(s){s.height=100;},
    afterBuildTicks(s){s.ticks=xTicks.map(value=>({value}));},
    border:{display:false},grid:{display:false,drawTicks:false},
    ticks:{color:INK,font:{family:'"DejaVu Sans"',size:19},padding:12,maxRotation:0,autoSkip:false,callback:v=>String(v)},
    title:{display:true,text:xLabel,color:INK,font:{family:'"DejaVu Sans"',size:22.9},padding:{top:0,bottom:33}}},
   y:{type:'linear',min:-0.06,max:0,afterFit(s){s.width=102;},
    afterBuildTicks(s){s.ticks=yTicks.map(value=>({value}));},
    border:{display:false},grid:{display:false,drawTicks:false},
    ticks:{color:INK,font:{family:'"DejaVu Sans"',size:19},padding:10,autoSkip:false,callback:(v,i)=>yTickLabels[i]},
    title:{display:true,text:yLabel,color:INK,font:{family:'"DejaVu Sans"',size:22.9},padding:{top:6,bottom:0}}}
  }}});
</script></body></html>
